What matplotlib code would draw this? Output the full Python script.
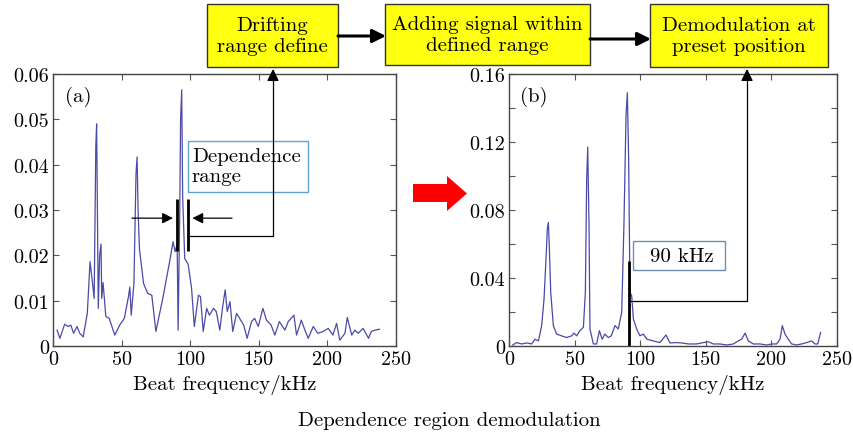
import numpy as np
import matplotlib
matplotlib.use("Agg")
import matplotlib.pyplot as plt
from matplotlib.patches import Rectangle, Polygon, FancyArrowPatch
from matplotlib.path import Path

plt.rcParams['font.family'] = ['cmr10', 'DejaVu Serif']
plt.rcParams['mathtext.fontset'] = 'cm'
plt.rcParams['axes.formatter.use_mathtext'] = True

# (a) beat spectrum before demodulation
freq_a = [3, 5, 8.5, 11, 13, 15, 17.5, 19.5, 22, 25, 27, 28.7, 30, 31.2, 31.8, 33,
          34, 35, 35.5, 36.5, 38.5, 41, 45, 48.6, 52, 55, 56, 57, 59, 60.5, 61.3,
          62, 63, 66, 69, 72, 75, 80, 85, 87.5, 89, 90.5, 91.2, 92.4, 93, 93.8, 94.5,
          96, 98.5, 101, 103, 106, 107.5, 109.5, 112, 114, 117, 119, 121.6, 123.5,
          125.5, 127, 129, 131, 133.8, 136, 139, 141.5, 144.7, 147, 149.6, 153,
          155.6, 159, 161.7, 165, 169, 171.5, 175.6, 177.5, 181, 183.6, 186, 189.7,
          193, 197, 200.6, 204, 206.7, 209, 212.8, 214.5, 217.7, 220, 222.5, 226,
          230, 232, 234.7, 238]
amp_a = [0.0035, 0.0017, 0.0048, 0.0043, 0.0046, 0.0028, 0.0043, 0.0028, 0.0020,
         0.0072, 0.0186, 0.0142, 0.0105, 0.0440, 0.0490, 0.0083, 0.0200, 0.0225,
         0.0105, 0.0140, 0.0065, 0.0061, 0.0024, 0.0046, 0.0061, 0.0109, 0.0130,
         0.0068, 0.0138, 0.0380, 0.0417, 0.0300, 0.0215, 0.0138, 0.0116, 0.0112,
         0.0032, 0.0105, 0.0186, 0.0230, 0.0208, 0.0225, 0.0035, 0.0300, 0.0500,
         0.0565, 0.0330, 0.0193, 0.0180, 0.0127, 0.0043, 0.0112, 0.0109, 0.0032,
         0.0083, 0.0068, 0.0083, 0.0076, 0.0035, 0.0083, 0.0124, 0.0076, 0.0098,
         0.0032, 0.0072, 0.0061, 0.0046, 0.0017, 0.0054, 0.0061, 0.0043, 0.0083,
         0.0057, 0.0046, 0.0024, 0.0054, 0.0035, 0.0054, 0.0068, 0.0024, 0.0057,
         0.0035, 0.0017, 0.0043, 0.0028, 0.0032, 0.0039, 0.0024, 0.0050, 0.0013,
         0.0028, 0.0063, 0.0024, 0.0035, 0.0028, 0.0039, 0.0017, 0.0032, 0.0035,
         0.0037]

# (b) spectrum after adding the signal inside the range
freq_b = [2.8, 5.8, 9.7, 13.5, 17.3, 19.8, 22.4, 24.9, 26.7, 28.2, 29.2, 30, 30.7,
          31.8, 33.8, 36.3, 40, 44, 47.8, 49.5, 51.6, 54, 56.7, 58.2, 59.2, 60, 61,
          61.7, 64.3, 66.8, 68.9, 71, 73, 75.7, 78, 80.8, 83.3, 85.9, 87.6, 89.2,
          90.2, 91.2, 92.2, 93.5, 94.8, 97.3, 99.8, 102.4, 105, 110, 115, 119.7,
          122.7, 127.8, 131.6, 136.7, 143, 148, 152, 155.7, 160.8, 166, 171, 174.8,
          177.3, 180, 182.4, 186.2, 191.3, 196.4, 200.2, 204, 206.6, 208.3, 210.4,
          212.9, 215.4, 219.3, 223, 226.9, 230.7, 233.2, 235.3, 237.5]
amp_b = [0.0006, 0.0020, 0.0012, 0.0018, 0.0012, 0.0040, 0.0030, 0.0120, 0.0276,
         0.0510, 0.0690, 0.0727, 0.0590, 0.0316, 0.0120, 0.0070, 0.0060, 0.0050,
         0.0060, 0.0076, 0.0060, 0.0090, 0.0110, 0.0316, 0.0980, 0.1170, 0.0710,
         0.0100, 0.0012, 0.0012, 0.0090, 0.0040, 0.0070, 0.0050, 0.0060, 0.0120,
         0.0100, 0.0198, 0.0710, 0.1355, 0.1490, 0.1100, 0.0316, 0.0296, 0.0159,
         0.0100, 0.0060, 0.0070, 0.0040, 0.0030, 0.0020, 0.0065, 0.0018, 0.0020,
         0.0018, 0.0012, 0.0012, 0.0020, 0.0025, 0.0012, 0.0012, 0.0006, 0.0012,
         0.0030, 0.0040, 0.0076, 0.0030, 0.0012, 0.0012, 0.0006, 0.0012, 0.0012,
         0.0040, 0.0120, 0.0070, 0.0040, 0.0012, 0.0006, 0.0012, 0.0020, 0.0030,
         0.0012, 0.0012, 0.0080]

xticks = [0, 50, 100, 150, 200, 250]
yticks_a = [0, 0.01, 0.02, 0.03, 0.04, 0.05, 0.06]
ylabels_a = ['0', '0.01', '0.02', '0.03', '0.04', '0.05', '0.06']
yticks_b = [0, 0.02, 0.04, 0.06, 0.08, 0.10, 0.12, 0.14, 0.16]
ylabels_b = ['0', '', '0.04', '', '0.08', '', '0.12', '', '0.16']

range_lo, range_hi = 90.5, 98.5   # dependence range edges, kHz
demod_freq = 91.5                 # preset demodulation position

W, H = 854, 435
fig = plt.figure(figsize=(W / 100, H / 100), dpi=100)


def fx(x):
    return x / W


def fy(y):
    return 1 - y / H


line_color = '#4a4aa8'
fs = 15
tick_fs = 14.5

ax1 = fig.add_axes([fx(53), fy(347), fx(396) - fx(53), fy(75) - fy(347)])
ax2 = fig.add_axes([fx(509), fy(347), fx(837) - fx(509), fy(75) - fy(347)])

ax1.plot(freq_a, amp_a, color=line_color, lw=0.9)
ax2.plot(freq_b, amp_b, color=line_color, lw=0.9)

ax1.set_ylim(0, 0.06)
ax1.set_yticks(yticks_a)
ax1.set_yticklabels(ylabels_a)
ax2.set_ylim(0, 0.16)
ax2.set_yticks(yticks_b)
ax2.set_yticklabels(ylabels_b)

for ax in (ax1, ax2):
    ax.set_xlim(0, 250)
    ax.set_xticks(xticks)
    ax.set_xticklabels([str(t) for t in xticks])
    ax.tick_params(direction='in', top=True, right=True, length=4,
                   width=0.8, color='#555555', labelsize=tick_fs, pad=3)
    for s in ax.spines.values():
        s.set_color('#444444')
        s.set_linewidth(1.0)
    ax.set_xlabel('Beat frequency/kHz', fontsize=fs, labelpad=4)

ax1.text(0.035, 0.92, '(a)', transform=ax1.transAxes, fontsize=fs, va='center')
ax2.text(0.035, 0.92, '(b)', transform=ax2.transAxes, fontsize=fs, va='center')

# dependence range markers and inward arrows
ax1.vlines([range_lo, range_hi], 0.021, 0.0324, color='black', lw=2)
ax1.annotate('', xy=(range_lo - 1, 0.0282), xytext=(range_lo - 35, 0.0282),
             arrowprops=dict(arrowstyle='-|>', color='black', lw=0.9,
                             mutation_scale=16))
ax1.annotate('', xy=(range_hi + 1, 0.0282), xytext=(range_hi + 34, 0.0282),
             arrowprops=dict(arrowstyle='-|>', color='black', lw=0.9,
                             mutation_scale=16))

# demodulation position marker
ax2.vlines(demod_freq, 0, 0.05, color='black', lw=2)

# text boxes
fig.patches.append(Rectangle((fx(188), fy(193)), fx(308) - fx(188), fy(142) - fy(193),
                             transform=fig.transFigure, fc='white', ec='#5fa3d3', lw=1.0))
fig.text(fx(192), fy(167), 'Dependence\nrange', fontsize=fs, va='center', ha='left',
         linespacing=1.2)
fig.patches.append(Rectangle((fx(633), fy(271)), fx(725) - fx(633), fy(242) - fy(271),
                             transform=fig.transFigure, fc='white', ec='#6f8fae', lw=1.0))
fig.text(fx(682), fy(257), '90 kHz', fontsize=fs, va='center', ha='center')

# connectors up to the flow boxes
for verts in ([(189, 237), (273, 237), (273, 70)],
              [(630, 302), (747, 302), (747, 70)]):
    p = Path([(fx(x), fy(y)) for x, y in verts])
    fig.patches.append(FancyArrowPatch(path=p, arrowstyle='-|>', mutation_scale=18,
                                       color='black', lw=0.9,
                                       transform=fig.transFigure))

# flow chart
boxes = [((207, 5, 338, 68), 'Drifting\nrange define'),
         ((385, 5, 590, 66), 'Adding signal within\ndefined range'),
         ((650, 5, 828, 68), 'Demodulation at\npreset position')]
for (x0, y0, x1, y1), label in boxes:
    fig.patches.append(Rectangle((fx(x0), fy(y1)), fx(x1) - fx(x0), fy(y0) - fy(y1),
                                 transform=fig.transFigure, fc='#ffff10', ec='#333333',
                                 lw=1.0))
    fig.text(fx((x0 + x1) / 2), fy((y0 + y1) / 2), label, fontsize=fs,
             ha='center', va='center', linespacing=1.2)

for (xa, xb, y) in [(338, 386, 37), (590, 651, 40)]:
    fig.patches.append(FancyArrowPatch((fx(xa), fy(y)), (fx(xb), fy(y)),
                                       arrowstyle='-|>', mutation_scale=20,
                                       color='black', lw=2.2, shrinkA=0, shrinkB=0,
                                       transform=fig.transFigure))

# red arrow between the panels
red = [(413, 185), (447, 185), (447, 177), (467, 194.5), (447, 212), (447, 203), (413, 203)]
fig.patches.append(Polygon([(fx(x), fy(y)) for x, y in red], closed=True,
                           transform=fig.transFigure, fc='#ff0000', ec='none'))

fig.text(fx(449), fy(421), 'Dependence region demodulation', fontsize=fs,
         ha='center', va='center')

fig.savefig('out.png', dpi=100)
